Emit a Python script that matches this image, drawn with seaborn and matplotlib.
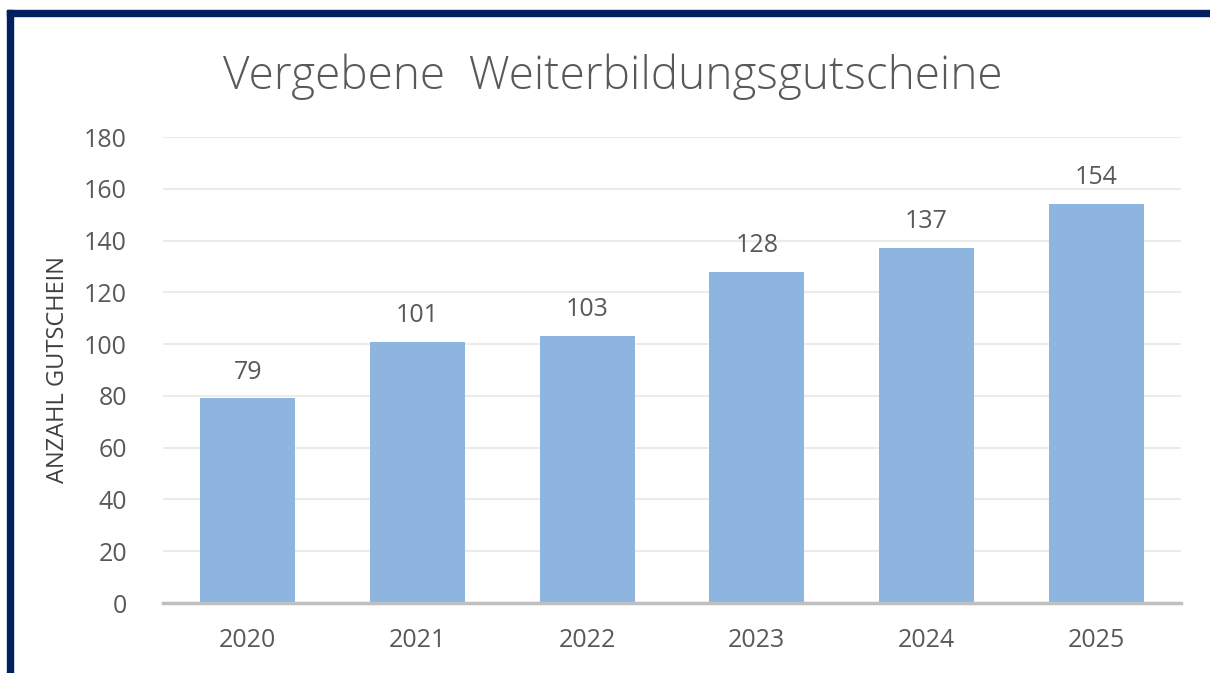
import matplotlib
matplotlib.use("Agg")
import matplotlib.pyplot as plt
import matplotlib.patches as mpatches
import seaborn as sns
import pandas as pd

# Daten
jahre = ["2020", "2021", "2022", "2023", "2024", "2025"]
gutscheine = [79, 101, 103, 128, 137, 154]
y_ticks = [0, 20, 40, 60, 80, 100, 120, 140, 160, 180]

df = pd.DataFrame({"Jahr": jahre, "Anzahl": gutscheine})

sns.set_theme(style="white")
plt.rcParams["font.family"] = ["Open Sans", "DejaVu Sans"]

text_grau = "#595959"
balken_blau = "#8DB5E0"

fig = plt.figure(figsize=(12.1, 6.73), dpi=100)
ax = fig.add_axes([0.1347, 0.104, 0.976 - 0.1347, 0.7964 - 0.104])

sns.barplot(data=df, x="Jahr", y="Anzahl", color=balken_blau, width=0.56,
            saturation=1, linewidth=0, ax=ax, zorder=3)

ax.set_ylim(0, 180)
ax.set_yticks(y_ticks)
ax.yaxis.grid(True, color="#EBEBEB", linewidth=1.5, zorder=0)
ax.xaxis.grid(False)
for s in ["top", "right", "left"]:
    ax.spines[s].set_visible(False)
ax.spines["bottom"].set_color("#BFBFBF")
ax.spines["bottom"].set_linewidth(2.5)
ax.spines["bottom"].set_zorder(4)
ax.tick_params(axis="both", length=0, labelsize=18, labelcolor=text_grau)
ax.tick_params(axis="y", pad=26)
ax.tick_params(axis="x", pad=18)

ax.set_xlabel("")
ax.set_ylabel("ANZAHL GUTSCHEIN", fontsize=17, color="#404040", labelpad=10)

# Datenbeschriftungen
for cont in ax.containers:
    ax.bar_label(cont, labels=[str(v) for v in gutscheine], padding=10,
                 fontsize=18, color=text_grau)

fig.text(0.506, 0.886, "Vergebene  Weiterbildungsgutscheine", ha="center",
         va="center", fontsize=33, color=text_grau, fontweight="light")

# Rahmen
fig.patches.append(mpatches.Rectangle((7 / 1210, 0), 6 / 1210, 1 - 10 / 673,
                                      transform=fig.transFigure, color="#002060",
                                      zorder=10))
fig.patches.append(mpatches.Rectangle((7 / 1210, 1 - 16 / 673), 1, 6 / 673,
                                      transform=fig.transFigure, color="#002060",
                                      zorder=10))

fig.savefig("out.png", dpi=100)
